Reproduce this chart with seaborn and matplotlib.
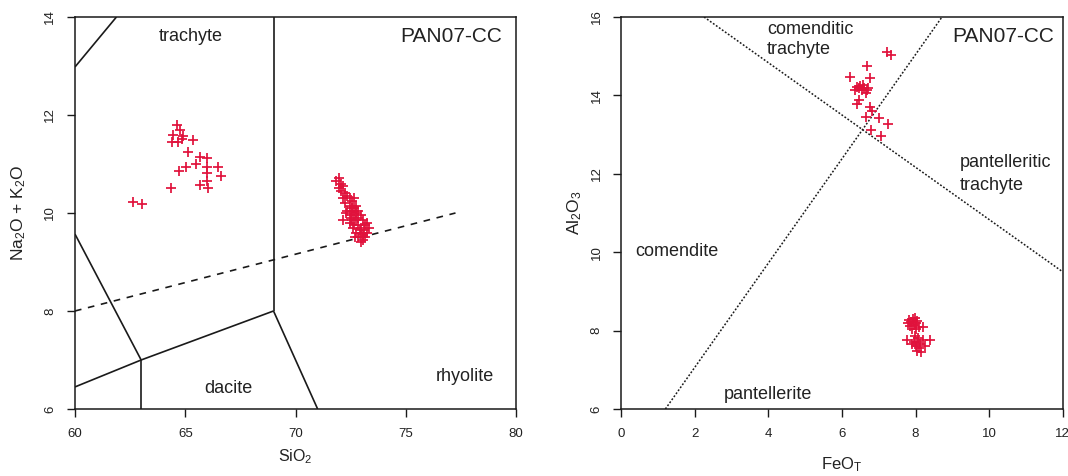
import matplotlib
matplotlib.use("Agg")
import matplotlib.pyplot as plt
import seaborn as sns
import pandas as pd

# ---------------- data ----------------
# TAS panel: trachyte group
sio2_trachyte = [64.61, 64.76, 64.46, 64.91, 64.39, 64.68, 65.36, 64.84, 65.14, 65.67,
                 66.00, 65.49, 65.03, 64.73, 66.00, 66.50, 66.61, 66.00, 66.00, 65.67,
                 66.05, 64.34, 62.62, 63.02]
alk_trachyte = [11.80, 11.69, 11.59, 11.57, 11.45, 11.45, 11.49, 11.52, 11.25, 11.15,
                11.13, 10.99, 10.93, 10.86, 10.94, 10.93, 10.76, 10.81, 10.66, 10.57,
                10.52, 10.52, 10.23, 10.18]
# TAS panel: rhyolite group
sio2_rhyolite = [71.85, 71.95, 72.05, 71.95, 72.15, 72.05, 72.25, 72.15, 72.35, 72.45,
                 72.25, 72.45, 72.55, 72.65, 72.35, 72.55, 72.65, 72.75, 72.45, 72.65,
                 72.75, 72.85, 72.15, 72.55, 72.75, 72.85, 72.95, 73.05, 72.65, 72.85,
                 72.95, 73.15, 73.25, 73.35, 72.75, 72.95, 73.05, 73.25, 72.85, 73.05,
                 73.15, 72.95, 72.45, 72.50, 72.60, 72.70, 72.30, 72.90, 73.10, 72.55]
alk_rhyolite = [10.65, 10.72, 10.60, 10.50, 10.55, 10.45, 10.40, 10.30, 10.35, 10.30,
                10.20, 10.15, 10.25, 10.30, 10.05, 10.05, 10.10, 10.15, 9.95, 9.95,
                10.00, 10.05, 9.85, 9.85, 9.85, 9.90, 9.95, 9.85, 9.75, 9.75,
                9.70, 9.75, 9.80, 9.70, 9.60, 9.60, 9.55, 9.60, 9.50, 9.45,
                9.50, 9.40, 9.80, 9.90, 9.70, 9.50, 10.00, 9.65, 9.65, 10.10]

# FeO-Al2O3 panel: trachyte group
feo_trachyte = [7.22, 7.32, 6.69, 6.22, 6.76, 6.40, 6.58, 6.67, 6.35, 6.47, 6.40, 6.76,
                6.81, 6.65, 7.01, 7.26, 6.78, 7.05, 6.65, 6.45, 6.55, 6.60, 6.50, 6.70]
al_trachyte = [15.11, 15.02, 14.75, 14.47, 14.45, 14.22, 14.26, 14.13, 14.13, 13.88,
               13.79, 13.71, 13.60, 13.45, 13.43, 13.26, 13.11, 12.97, 14.05, 14.20,
               14.15, 14.20, 14.25, 14.18]
# FeO-Al2O3 panel: rhyolite group
feo_rhyolite = [7.82, 7.88, 7.92, 7.95, 7.85, 8.00, 8.05, 8.10, 8.20, 7.90, 8.02, 7.80,
                7.98, 7.78, 7.95, 8.05, 8.12, 8.20, 8.40, 8.00, 8.10, 8.15, 8.05, 7.98,
                8.08, 8.25, 7.90]
al_rhyolite = [8.28, 8.22, 8.30, 8.15, 8.12, 8.20, 8.25, 8.10, 8.08, 8.05, 8.05, 8.20,
               8.32, 7.75, 7.72, 7.70, 7.65, 7.75, 7.75, 7.60, 7.55, 7.45, 7.48, 7.85,
               7.80, 7.60, 7.65]

# Classification boundaries (field lines)
tas_lines = [
    ([60.0, 61.88], [12.98, 14.0]),
    ([60.0, 63.0], [9.57, 7.0]),
    ([60.0, 63.0, 69.0], [6.45, 7.0, 8.0]),
    ([63.0, 63.0], [7.0, 6.0]),
    ([69.0, 69.0], [8.0, 14.0]),
    ([69.0, 71.0], [8.0, 6.0]),
]
tas_dashed = ([60.0, 77.25], [8.0, 10.0])
mac_lines = [
    ([2.25, 12.0], [16.0, 9.5]),
    ([1.2, 8.72], [6.0, 16.0]),
]

sio2_ticks = [60, 65, 70, 75, 80]
alk_ticks = [6, 8, 10, 12, 14]
feo_ticks = [0, 2, 4, 6, 8, 10, 12]
al_ticks = [6, 8, 10, 12, 14, 16]

# ---------------- style ----------------
sns.set_style("ticks")
plt.rcParams["font.family"] = ["Liberation Sans", "DejaVu Sans"]
plt.rcParams["mathtext.fontset"] = "custom"
plt.rcParams["mathtext.rm"] = "Liberation Sans"
plt.rcParams["mathtext.it"] = "Liberation Sans:italic"
plt.rcParams["mathtext.bf"] = "Liberation Sans:bold"

RED = "#e0123c"
TXT = "#222222"
LINE = "#1a1a1a"

fig = plt.figure(figsize=(10.68, 4.76), dpi=100)
ax1 = fig.add_axes([0.0702, 0.1408, 0.4131, 0.8235])
ax2 = fig.add_axes([0.5817, 0.1408, 0.4133, 0.8235])

tas = pd.DataFrame({"x": sio2_trachyte + sio2_rhyolite,
                    "y": alk_trachyte + alk_rhyolite})
mac = pd.DataFrame({"x": feo_trachyte + feo_rhyolite,
                    "y": al_trachyte + al_rhyolite})

# ---- left: TAS ----
for xs, ys in tas_lines:
    ax1.plot(xs, ys, color=LINE, lw=1.2, solid_capstyle="butt")
ax1.plot(tas_dashed[0], tas_dashed[1], color=LINE, lw=1.2,
         linestyle=(0, (4, 4)))
sns.scatterplot(data=tas, x="x", y="y", marker="+", s=52, color=RED,
                linewidth=1.25, ax=ax1, zorder=3)
ax1.set_xlim(60, 80)
ax1.set_ylim(6, 14)
ax1.set_xticks(sio2_ticks)
ax1.set_yticks(alk_ticks)
ax1.set_xlabel(r"SiO$_2$", fontsize=11.5, color=TXT, va="center")
ax1.set_ylabel(r"Na$_2$O + K$_2$O", fontsize=12.5, color=TXT, va="center")
ax1.xaxis.set_label_coords(0.5, -0.122)
ax1.yaxis.set_label_coords(-0.127, 0.5)
ax1.text(65.26, 13.6, "trachyte", fontsize=13, ha="center", va="center", color=TXT)
ax1.text(79.35, 13.6, "PAN07-CC", fontsize=15, ha="right", va="center", color=TXT)
ax1.text(66.94, 6.42, "dacite", fontsize=13, ha="center", va="center", color=TXT)
ax1.text(77.66, 6.66, "rhyolite", fontsize=13, ha="center", va="center", color=TXT)

# ---- right: FeO vs Al2O3 ----
for xs, ys in mac_lines:
    ax2.plot(xs, ys, color=LINE, lw=1.1, linestyle=(0, (1.2, 1.2)))
sns.scatterplot(data=mac, x="x", y="y", marker="+", s=52, color=RED,
                linewidth=1.25, ax=ax2, zorder=3)
ax2.set_xlim(0, 12)
ax2.set_ylim(6, 16)
ax2.set_xticks(feo_ticks)
ax2.set_yticks(al_ticks)
ax2.set_xlabel(r"FeO$_\mathrm{T}$", fontsize=12, color=TXT, va="center")
ax2.set_ylabel(r"Al$_2$O$_3$", fontsize=12.5, color=TXT, va="center")
ax2.xaxis.set_label_coords(0.5, -0.142)
ax2.yaxis.set_label_coords(-0.105, 0.5)
ax2.text(3.96, 15.68, "comenditic", fontsize=13, ha="left", va="center", color=TXT)
ax2.text(3.96, 15.16, "trachyte", fontsize=13, ha="left", va="center", color=TXT)
ax2.text(11.77, 15.49, "PAN07-CC", fontsize=15, ha="right", va="center", color=TXT)
ax2.text(9.2, 12.28, "pantelleritic", fontsize=13, ha="left", va="center", color=TXT)
ax2.text(9.2, 11.70, "trachyte", fontsize=13, ha="left", va="center", color=TXT)
ax2.text(0.37, 10.02, "comendite", fontsize=13, ha="left", va="center", color=TXT)
ax2.text(2.8, 6.37, "pantellerite", fontsize=13, ha="left", va="center", color=TXT)

for ax in (ax1, ax2):
    for sp in ax.spines.values():
        sp.set_visible(True)
        sp.set_color(LINE)
        sp.set_linewidth(1.1)
    ax.tick_params(axis="both", direction="out", length=5.5, width=1,
                   labelsize=9.5, colors=LINE, labelcolor=TXT, pad=8,
                   top=False, right=False)
    ax.tick_params(axis="y", labelrotation=90)
    for lbl in ax.get_yticklabels():
        lbl.set_va("center")
    ax.set_facecolor("white")

fig.savefig("out.png", dpi=100, facecolor="white")
